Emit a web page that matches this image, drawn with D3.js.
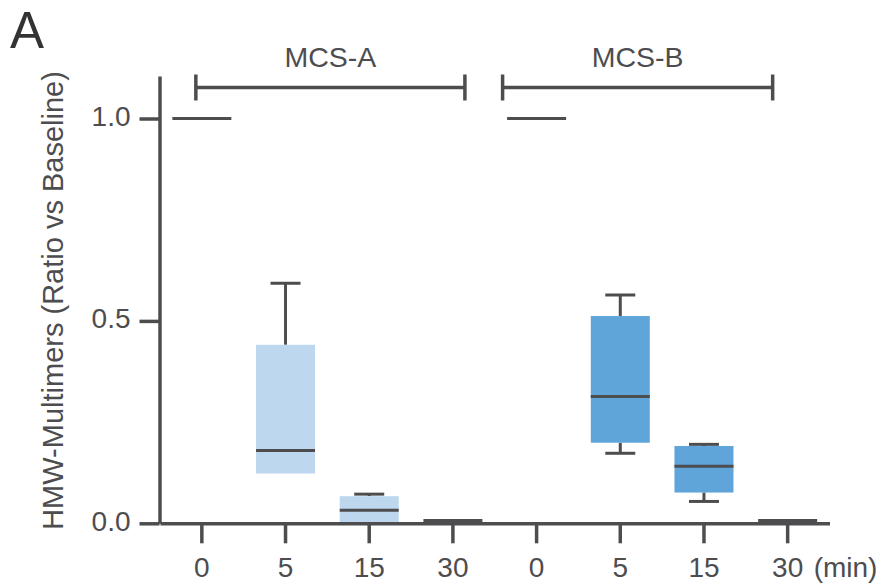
<!DOCTYPE html>
<html>
<head>
<meta charset="utf-8">
<script src="https://cdn.jsdelivr.net/npm/d3@7"></script>
<style>
  html, body { margin: 0; padding: 0; background: #fff; }
  svg { display: block; font-family: "Liberation Sans", Arial, sans-serif; }
</style>
</head>
<body>
<svg id="chart" width="888" height="584"></svg>
<script>
// ---- data ----
const groups = ["MCS-A", "MCS-B"];
const times = ["0", "5", "15", "30"];
const yTicks = [0, 0.5, 1.0];
// per group, per time point: [whiskerLow, q1, median, q3, whiskerHigh] (null = not drawn)
const mcsA = [
  [null, null, 1.0, null, null],
  [null, 0.123, 0.180, 0.441, 0.593],
  [null, 0.0, 0.032, 0.067, 0.072],
  [null, null, 0.007, null, null]
];
const mcsB = [
  [null, null, 1.0, null, null],
  [0.173, 0.199, 0.313, 0.512, 0.564],
  [0.054, 0.076, 0.141, 0.191, 0.195],
  [null, null, 0.007, null, null]
];
const seriesColors = ["#bdd7ee", "#5fa5d9"];

// ---- layout ----
const ink = "#4d4d4f";
const svg = d3.select("#chart");
const keys = [];
groups.forEach((g, gi) => times.forEach(t => keys.push(gi + "|" + t)));

const x = d3.scaleBand().domain(keys).range([160, 829.5]).paddingInner(0).paddingOuter(0);
const y = d3.scaleLinear().domain([0, 1.105]).range([523.3, 76]);
const boxW = 59, capW = 30;

// ---- boxes ----
const rows = [];
[mcsA, mcsB].forEach((series, gi) => series.forEach((v, ti) => {
  rows.push({key: gi + "|" + times[ti], gi, lo: v[0], q1: v[1], med: v[2], q3: v[3], hi: v[4]});
}));

const gBoxes = svg.append("g");
rows.forEach(d => {
  const cx = x(d.key) + x.bandwidth() / 2;
  const g = gBoxes.append("g");
  if (d.hi !== null) {
    g.append("line").attr("x1", cx).attr("x2", cx).attr("y1", y(d.hi)).attr("y2", y(d.q3))
      .attr("stroke", ink).attr("stroke-width", 3);
    g.append("line").attr("x1", cx - capW / 2).attr("x2", cx + capW / 2).attr("y1", y(d.hi)).attr("y2", y(d.hi))
      .attr("stroke", ink).attr("stroke-width", 3);
  }
  if (d.lo !== null) {
    g.append("line").attr("x1", cx).attr("x2", cx).attr("y1", y(d.lo)).attr("y2", y(d.q1))
      .attr("stroke", ink).attr("stroke-width", 3);
    g.append("line").attr("x1", cx - capW / 2).attr("x2", cx + capW / 2).attr("y1", y(d.lo)).attr("y2", y(d.lo))
      .attr("stroke", ink).attr("stroke-width", 3);
  }
  if (d.q1 !== null) {
    g.append("rect").attr("x", cx - boxW / 2).attr("width", boxW)
      .attr("y", y(d.q3)).attr("height", y(d.q1) - y(d.q3))
      .attr("fill", seriesColors[d.gi]);
  }
  g.append("line").attr("x1", cx - boxW / 2).attr("x2", cx + boxW / 2).attr("y1", y(d.med)).attr("y2", y(d.med))
    .attr("stroke", ink).attr("stroke-width", 3);
});

// ---- axes ----
const fontSize = 28;
const yAxis = svg.append("g").attr("transform", "translate(159.5,0)")
  .call(d3.axisLeft(y).tickValues(yTicks).tickFormat(d3.format(".1f")).tickSize(20).tickSizeOuter(0).tickPadding(9));
const xAxis = svg.append("g").attr("transform", "translate(0,523.3)")
  .call(d3.axisBottom(x).tickFormat(k => k.split("|")[1]).tickSize(20).tickSizeOuter(0).tickPadding(14));

[yAxis, xAxis].forEach(a => {
  a.select(".domain").attr("stroke", ink).attr("stroke-width", 3.5);
  a.selectAll(".tick line").attr("stroke", ink).attr("stroke-width", 3.5);
  a.selectAll(".tick text").attr("fill", ink).attr("font-size", fontSize)
    .attr("font-family", "'Liberation Sans', Arial, sans-serif");
});
yAxis.selectAll(".tick text").attr("dy", "0.25em");

// unit label after last tick label
const lastKey = keys[keys.length - 1];
svg.append("text").attr("x", x(lastKey) + x.bandwidth() / 2 + 26).attr("y", 577)
  .attr("fill", ink).attr("font-size", fontSize).text("(min)");

// ---- group brackets ----
const bracketY = 87.5, capH = 13;
const bracketOffsets = [[-6, 12], [-34, -15]];
groups.forEach((gname, gi) => {
  const first = x(gi + "|" + times[0]) + x.bandwidth() / 2 + bracketOffsets[gi][0];
  const last = x(gi + "|" + times[times.length - 1]) + x.bandwidth() / 2 + bracketOffsets[gi][1];
  const g = svg.append("g");
  g.append("line").attr("x1", first).attr("x2", last).attr("y1", bracketY).attr("y2", bracketY)
    .attr("stroke", ink).attr("stroke-width", 3.5);
  [first, last].forEach(xx => g.append("line").attr("x1", xx).attr("x2", xx)
    .attr("y1", bracketY - capH).attr("y2", bracketY + capH).attr("stroke", ink).attr("stroke-width", 3.5));
  g.append("text").attr("x", (first + last) / 2).attr("y", 66.5).attr("text-anchor", "middle")
    .attr("fill", ink).attr("font-size", 28.5).text(gname);
});

// ---- y title ----
svg.append("text").attr("transform", "translate(63,300.5) rotate(-90)")
  .attr("text-anchor", "middle").attr("fill", ink).attr("font-size", 29)
  .text("HMW-Multimers (Ratio vs Baseline)");

// ---- panel letter ----
svg.append("text").attr("x", 10).attr("y", 47.5).attr("fill", "#333").attr("font-size", 51).text("A");
</script>
</body>
</html>
